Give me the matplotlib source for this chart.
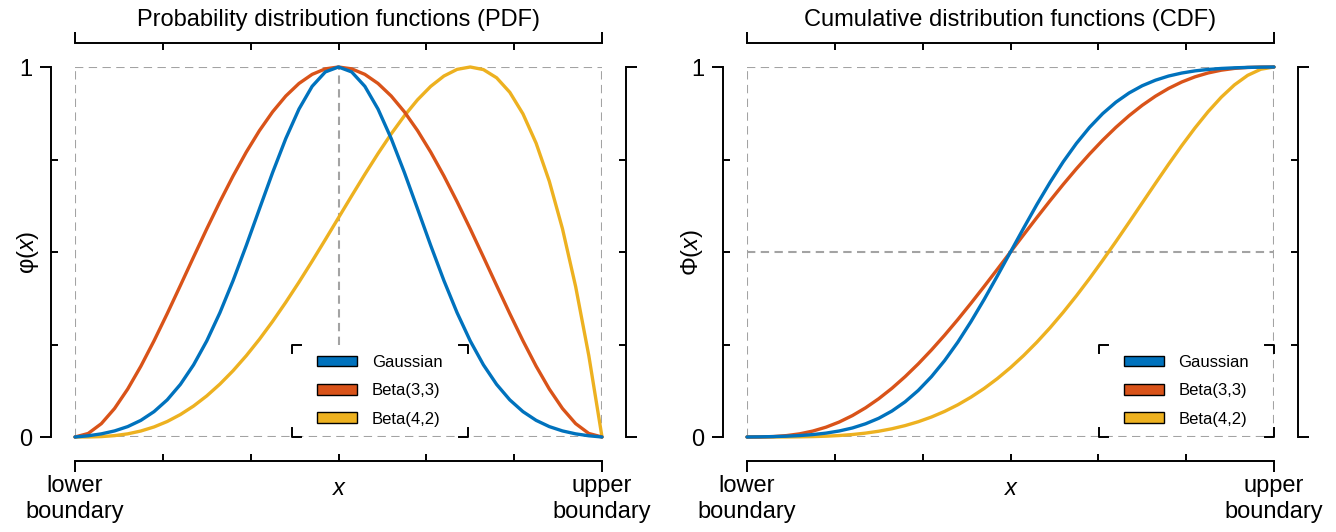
import numpy as np
import matplotlib.pyplot as plt
from matplotlib.patches import Patch

plt.rcParams['font.family'] = ['Liberation Sans', 'DejaVu Sans']
plt.rcParams['mathtext.fontset'] = 'custom'
plt.rcParams['mathtext.rm'] = 'Liberation Sans'
plt.rcParams['mathtext.it'] = 'Liberation Sans:italic'

# x between lower and upper boundary, 41 samples
x = np.linspace(0, 1, 41)

# PDFs (scaled to peak 1)
pdf_gauss = [0.0, 0.0033, 0.0085, 0.0164, 0.0281, 0.0450, 0.0686, 0.1004, 0.1422, 0.1950,
             0.2596, 0.3360, 0.4228, 0.5176, 0.6166, 0.7149, 0.8067, 0.8863, 0.9478, 0.9867,
             1.0,
             0.9867, 0.9478, 0.8863, 0.8067, 0.7149, 0.6166, 0.5176, 0.4228, 0.3360, 0.2596,
             0.1950, 0.1422, 0.1004, 0.0686, 0.0450, 0.0281, 0.0164, 0.0085, 0.0033, 0.0]
pdf_beta33 = [0.0, 0.0095, 0.0361, 0.0770, 0.1296, 0.1914, 0.2601, 0.3335, 0.4096, 0.4865,
              0.5625, 0.6360, 0.7056, 0.7700, 0.8281, 0.8789, 0.9216, 0.9555, 0.9801, 0.9950,
              1.0,
              0.9950, 0.9801, 0.9555, 0.9216, 0.8789, 0.8281, 0.7700, 0.7056, 0.6360, 0.5625,
              0.4865, 0.4096, 0.3335, 0.2601, 0.1914, 0.1296, 0.0770, 0.0361, 0.0095, 0.0]
pdf_beta42 = [0.0, 0.0001, 0.0011, 0.0037, 0.0085, 0.0162, 0.0272, 0.0419, 0.0607, 0.0837,
              0.1111, 0.1430, 0.1792, 0.2197, 0.2642, 0.3125, 0.3641, 0.4185, 0.4752, 0.5335,
              0.5926, 0.6517, 0.7099, 0.7661, 0.8192, 0.8681, 0.9114, 0.9477, 0.9756, 0.9936,
              1.0, 0.9930, 0.9709, 0.9317, 0.8734, 0.7940, 0.6912, 0.5628, 0.4065, 0.2197, 0.0]

# CDFs
cdf_gauss = [0.0, 0.0004, 0.0011, 0.0022, 0.0039, 0.0066, 0.0105, 0.0163, 0.0244, 0.0357,
             0.0506, 0.0702, 0.0951, 0.1259, 0.1631, 0.2066, 0.2563, 0.3119, 0.3718, 0.4352,
             0.5,
             0.5648, 0.6282, 0.6881, 0.7437, 0.7934, 0.8369, 0.8741, 0.9049, 0.9298, 0.9494,
             0.9643, 0.9756, 0.9837, 0.9895, 0.9934, 0.9961, 0.9978, 0.9989, 0.9996, 1.0]
cdf_beta33 = [0.0, 0.0002, 0.0012, 0.0038, 0.0086, 0.0161, 0.0266, 0.0405, 0.0579, 0.0789,
              0.1035, 0.1316, 0.1631, 0.1977, 0.2352, 0.2752, 0.3174, 0.3615, 0.4069, 0.4532,
              0.5,
              0.5468, 0.5931, 0.6385, 0.6826, 0.7248, 0.7648, 0.8023, 0.8369, 0.8684, 0.8965,
              0.9211, 0.9421, 0.9595, 0.9734, 0.9839, 0.9914, 0.9962, 0.9988, 0.9998, 1.0]
cdf_beta42 = [0.0, 0.0, 0.0, 0.0001, 0.0005, 0.0011, 0.0022, 0.0040, 0.0067, 0.0105,
              0.0156, 0.0223, 0.0308, 0.0413, 0.0540, 0.0692, 0.0870, 0.1077, 0.1312, 0.1578,
              0.1875, 0.2203, 0.2562, 0.2951, 0.3370, 0.3815, 0.4284, 0.4775, 0.5282, 0.5802,
              0.6328, 0.6854, 0.7373, 0.7875, 0.8352, 0.8793, 0.9185, 0.9517, 0.9774, 0.9940, 1.0]

labels = ['Gaussian', 'Beta(3,3)', 'Beta(4,2)']
colors = ['#0072BD', '#D95319', '#EDB120']
xtick_labels = ['lower\nboundary', 'upper\nboundary']
ytick_labels = ['0', '1']
x_minor = [1 / 6, 2 / 6, 3 / 6, 4 / 6, 5 / 6]
y_minor = [0.25, 0.5, 0.75]

GRAY = '#a3a3a3'
DASH = (0, (4.0, 2.6))
FS = 17


def style_axes(ax):
    """bracket style axes: end caps outward, inner ticks inward"""
    for side in ['left', 'right', 'top', 'bottom']:
        ax.spines[side].set_position(('outward', 17.5))
        ax.spines[side].set_linewidth(1.4)
        ax.spines[side].set_bounds(0, 1)
    ax.set_xlim(0, 1)
    ax.set_ylim(0, 1)
    ax.set_xticks([0, 1])
    ax.set_xticks(x_minor, minor=True)
    ax.set_yticks([0, 1])
    ax.set_yticks(y_minor, minor=True)
    ax.set_xticklabels(xtick_labels)
    ax.set_yticklabels(ytick_labels)
    ax.tick_params(which='major', direction='out', length=8, width=1.4,
                   top=True, right=True, labeltop=False, labelright=False,
                   labelsize=FS, pad=2)
    ax.tick_params(axis='y', which='major', pad=5)
    ax.tick_params(which='minor', direction='in', length=5, width=1.4,
                   top=True, right=True)
    # dashed box
    for v in [0, 1]:
        ax.axhline(v, color=GRAY, lw=1.5, ls=DASH, zorder=1)
        ax.axvline(v, color=GRAY, lw=1.5, ls=DASH, zorder=1)
    ax.set_xlabel('x', fontsize=FS, fontstyle='italic', va='center')
    ax.xaxis.set_label_coords(0.5, -0.138)


def legend_box(ax, x0, x1, y1=0.25):
    """legend with corner marks"""
    handles = [Patch(facecolor=c, edgecolor='black', linewidth=1.0) for c in colors]
    ax.legend(handles, labels, loc='center', bbox_to_anchor=((x0 + x1) / 2, y1 / 2),
              frameon=False, fontsize=12, handlelength=2.4, handleheight=0.6,
              handletextpad=0.85, labelspacing=0.8, borderpad=0)
    dx, dy = 0.017, 0.024
    kw = dict(color='black', lw=1.4, transform=ax.transAxes, clip_on=False, zorder=5)
    ax.plot([x0 + dx, x0, x0], [y1, y1, y1 - dy], **kw)
    ax.plot([x1 - dx, x1, x1], [y1, y1, y1 - dy], **kw)
    ax.plot([x0 + dx, x0, x0], [0, 0, dy], **kw)
    ax.plot([x1 - dx, x1, x1], [0, 0, dy], **kw)


def draw_curves(ax, series):
    # yellow, orange, then blue on top
    for ys, c, z in zip(series[::-1], colors[::-1], [3, 3, 4]):
        ax.plot(x, ys, color=c, lw=2.4, clip_on=False, zorder=z,
                solid_joinstyle='round', solid_capstyle='round')


fig = plt.figure(figsize=(13.36, 5.32), dpi=100)
ax1 = fig.add_axes([75 / 1336, 95 / 532, 527 / 1336, 370 / 532])
ax2 = fig.add_axes([747 / 1336, 95 / 532, 527 / 1336, 370 / 532])

# PDF
style_axes(ax1)
ax1.axvline(0.5, ymin=0.25, ymax=1, color=GRAY, lw=1.5, ls=DASH, zorder=1)
draw_curves(ax1, [pdf_gauss, pdf_beta33, pdf_beta42])
ax1.set_title('Probability distribution functions (PDF)', fontsize=FS, y=1.089)
ax1.set_ylabel('φ($x$)', fontsize=FS, va='center')
ax1.yaxis.set_label_coords(-0.089, 0.5)
legend_box(ax1, 0.412, 0.745)

# CDF
style_axes(ax2)
ax2.axhline(0.5, color=GRAY, lw=1.5, ls=DASH, zorder=1)
draw_curves(ax2, [cdf_gauss, cdf_beta33, cdf_beta42])
ax2.set_title('Cumulative distribution functions (CDF)', fontsize=FS, y=1.089)
ax2.set_ylabel('Φ($x$)', fontsize=FS, va='center')
ax2.yaxis.set_label_coords(-0.104, 0.5)
legend_box(ax2, 0.668, 1.0)

fig.savefig('out.png', dpi=100)
